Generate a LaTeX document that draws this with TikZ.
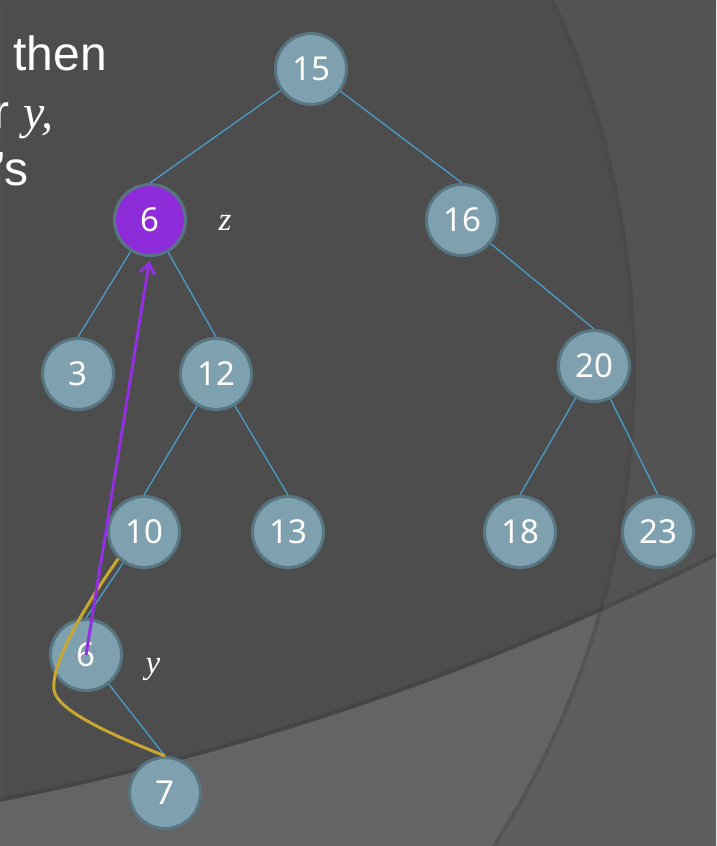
\documentclass[tikz,border=0pt]{standalone}
\usepackage{fontspec}
\setmainfont{Liberation Sans}
\newfontfamily\digitfont{Noto Sans}
\newfontfamily\labelserif{Liberation Serif}
\usetikzlibrary{arrows.meta}
\definecolor{bgA}{HTML}{4D4D4D}
\definecolor{bgB}{HTML}{535353}
\definecolor{bgC}{HTML}{5E5E5E}
\definecolor{bgD}{HTML}{646464}
\definecolor{nodefill}{HTML}{7FA1AF}
\definecolor{nodeborder}{HTML}{587582}
\definecolor{edgecol}{HTML}{4B9CC8}
\definecolor{zpurple}{HTML}{8D2CD8}
\definecolor{arrowpurple}{HTML}{9030E0}
\definecolor{goldcol}{HTML}{C8A832}
\begin{document}
\begin{tikzpicture}[x=1pt,y=-1pt,
  tnode/.style={circle, draw=nodeborder, line width=3pt, fill=nodefill,
    minimum size=71pt, inner sep=0pt, text=white,
    font=\digitfont\fontsize{33}{33}\selectfont},
  tedge/.style={draw=edgecol, line width=1.3pt},
  lbl/.style={text=white, inner sep=0pt,
    font=\labelserif\itshape\fontsize{33}{33}\selectfont},
  toptext/.style={text=white, inner sep=0pt, anchor=base east,
    font=\fontsize{48}{48}\selectfont},
  purplearrow/.style={draw=arrowpurple, line width=3pt,
    -{Straight Barb[length=10pt,width=15pt]}, shorten >=4pt},
  goldpath/.style={draw=goldcol, line width=3pt}]

\useasboundingbox (0,0) rectangle (716,846);
\clip (0,0) rectangle (716,846);

% background
\fill[bgB] (0,0) rectangle (716,846);
\fill[bgA] (-244,370) circle (876pt);
\fill[bgC, even odd rule] (0,0) rectangle (716,846) (-541,-1949) circle (2803pt);
\begin{scope}
  \clip (-244,370) circle (876pt);
  \fill[bgD, even odd rule] (0,0) rectangle (716,846) (-541,-1949) circle (2803pt);
\end{scope}
\draw[black, opacity=0.10, line width=4pt] (-244,370) circle (878pt);
\draw[black, opacity=0.10, line width=4pt] (-541,-1949) circle (2801pt);

% cut-off text (cut by the frame in the reference too)
\node[toptext] (t1) at (107,70) {then};
\node[toptext] (t2) at (54,128) {r {\labelserif\itshape y,}};
\node[toptext] (t3) at (29,185) {’s};

% nodes
\node[tnode] (n15) at (311,69) {15};
\node[tnode, fill=zpurple] (z6) at (150,220) {6};
\node[tnode] (n16) at (462,220) {16};
\node[tnode] (n3) at (78,374) {3};
\node[tnode] (n12) at (216,374) {12};
\node[tnode] (n20) at (594,366) {20};
\node[tnode] (n10) at (144,532) {10};
\node[tnode] (n13) at (288,532) {13};
\node[tnode] (n18) at (520,532) {18};
\node[tnode] (n23) at (658,532) {23};
\node[tnode] (y6) at (86,655) {6};
\node[tnode] (n7) at (165,793) {7};

\node[lbl] (zl) at (225,223) {z};
\node[lbl] (yl) at (153,669) {y};

% edges: from parent's border to child's top
\draw[tedge] (n15) -- (z6.north);
\draw[tedge] (n15) -- (n16.north);
\draw[tedge] (z6) -- (n3.north);
\draw[tedge] (z6) -- (n12.north);
\draw[tedge] (n16) -- (n20.north);
\draw[tedge] (n12) -- (n10.north);
\draw[tedge] (n12) -- (n13.north);
\draw[tedge] (n20) -- (n18.north);
\draw[tedge] (n20) -- (n23.north);
\draw[tedge] (n10) -- (y6.north);
\draw[tedge] (y6) -- (n7.north);

% highlighted paths
\draw[goldpath] (n10.226) .. controls (75,620) and (51,668) .. (54,690)
  .. controls (57,712) and (120,738) .. (n7.north);
\draw[purplearrow] (y6.center) -- (z6.south);
\end{tikzpicture}
\end{document}
